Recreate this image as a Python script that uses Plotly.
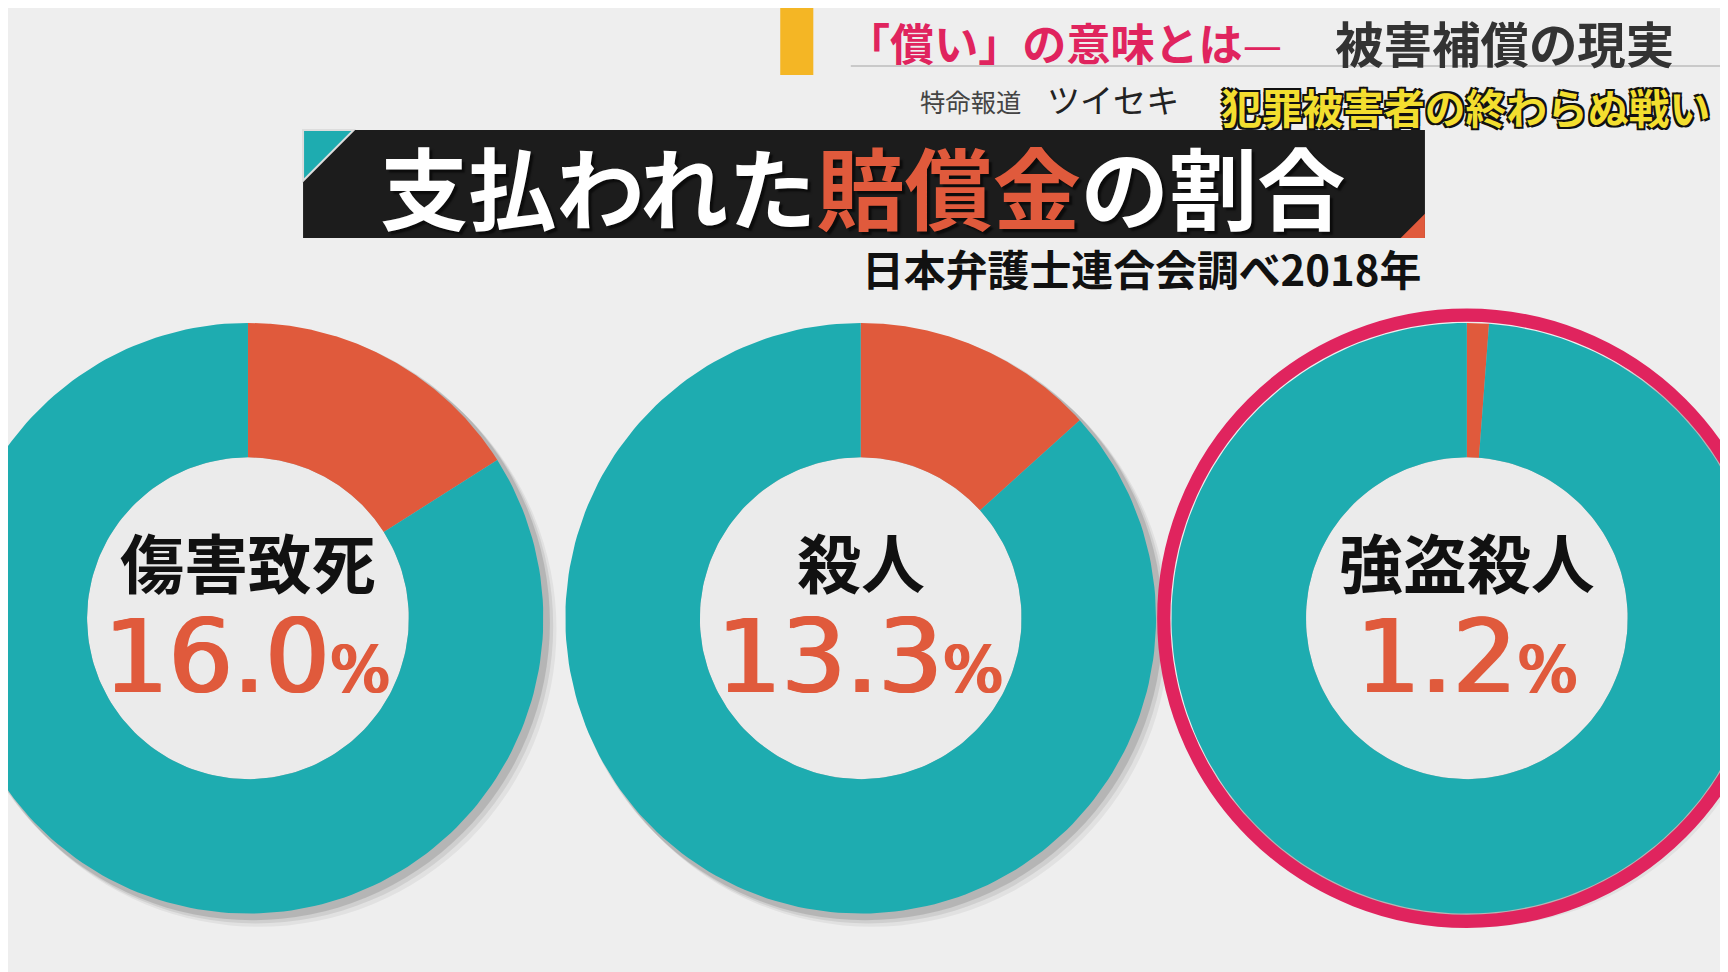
import numpy as np
import plotly.graph_objects as go

# 支払われた賠償金の割合（日本弁護士連合会調べ2018年）
categories = ["傷害致死", "殺人", "強盗殺人"]
paid_pct = [16.0, 13.3, 1.2]
pct_labels = ["16.0", "13.3", "1.2"]
highlight = "強盗殺人"

# 元画像 1568x882 の座標で配置し、1728x972 に拡大
W, H = 1568, 882
S = 1728 / 1568
OFF = 8 / S  # body の余白 8px を打ち消す
centers_x = [225, 781, 1331]
center_y = 561
R_OUT, R_IN = 268, 146

TEAL = "#1eacb0"
ORANGE = "#e05a3c"
BG = "#eeeeee"
PINK = "#e0245e"
JP = "Noto Sans CJK JP"


def ring(cx, cy, a0, a1):
    # 12時から時計回りの角度（度）でリング状の扇形
    t = np.radians(np.linspace(a0, a1, 200))
    xo = cx + R_OUT * np.sin(t)
    yo = cy - R_OUT * np.cos(t)
    xi = cx + R_IN * np.sin(t[::-1])
    yi = cy - R_IN * np.cos(t[::-1])
    return np.r_[xo, xi, xo[:1]], np.r_[yo, yi, yo[:1]]


fig = go.Figure()
shapes = []
annotations = []

for cat, p, lab, cx in zip(categories, paid_pct, pct_labels, centers_x):
    # 影
    for off, a in [(10, 0.05), (7, 0.08), (4, 0.12)]:
        shapes.append(dict(type="circle", xref="x", yref="y", layer="below",
                           x0=cx - R_OUT + off - 2, x1=cx + R_OUT + off + 2,
                           y0=center_y - R_OUT + off - 2, y1=center_y + R_OUT + off + 2,
                           fillcolor=f"rgba(0,0,0,{a})", line_width=0))
    paid_deg = p / 100 * 360
    x, y = ring(cx, center_y, 0, paid_deg)
    fig.add_trace(go.Scatter(x=x, y=y, fill="toself", fillcolor=ORANGE, mode="lines",
                             line=dict(width=0), hoverinfo="skip", showlegend=False))
    x, y = ring(cx, center_y, paid_deg, 360)
    fig.add_trace(go.Scatter(x=x, y=y, fill="toself", fillcolor=TEAL, mode="lines",
                             line=dict(width=0), hoverinfo="skip", showlegend=False))
    # 穴
    shapes.append(dict(type="circle", xref="x", yref="y", layer="below",
                       x0=cx - R_IN, x1=cx + R_IN, y0=center_y - R_IN, y1=center_y + R_IN,
                       fillcolor="#ebebeb", line_width=0))
    annotations.append(dict(x=cx, y=508, xref="x", yref="y", text=f"<b>{cat}</b>",
                            showarrow=False, font=dict(family=JP, size=58 * S, color="#111")))
    annotations.append(dict(x=cx, y=596, xref="x", yref="y",
                            text=f"{lab}<span style='font-size:{58 * S:.0f}px'>%</span>",
                            showarrow=False,
                            font=dict(family="DejaVu Sans", size=92 * S, color=ORANGE,
                                      shadow=f"1.5px 0 0 {ORANGE}, -1.5px 0 0 {ORANGE}")))
    if cat == highlight:
        shapes.append(dict(type="circle", xref="x", yref="y", layer="above",
                           x0=cx - 275, x1=cx + 275, y0=center_y - 275, y1=center_y + 275,
                           line=dict(color=PINK, width=12 * S)))

# タイトル帯
shapes += [
    dict(type="rect", xref="x", yref="y", x0=275, x1=1293, y0=118, y1=216,
         fillcolor="#1c1c1c", line_width=0),
    dict(type="path", xref="x", yref="y", path="M 275 118 L 321 118 L 275 164 Z",
         fillcolor=TEAL, line_width=0),
    dict(type="path", xref="x", yref="y", path="M 275 118 L 321 118 L 275 164 Z",
         fillcolor="rgba(0,0,0,0)", line=dict(color="#dddddd", width=2)),
    dict(type="path", xref="x", yref="y", path="M 1293 194 L 1293 216 L 1271 216 Z",
         fillcolor=ORANGE, line_width=0),
    # 右上の見出し
    dict(type="rect", xref="x", yref="y", x0=708, x1=738, y0=-5, y1=68,
         fillcolor="#f4b625", line_width=0),
    dict(type="line", xref="x", yref="y", x0=772, x1=1568, y0=60, y1=60,
         line=dict(color="#c9c9c9", width=2)),
]

annotations += [
    dict(x=783, y=167, xref="x", yref="y", showarrow=False,
         text="<b>支払われた<span style='color:#e05a3c'>賠償金</span>の割合</b>",
         font=dict(family=JP, size=80 * S, color="white",
                   shadow="3px 3px 2px rgba(0,0,0,0.6)")),
    dict(x=1291, y=243, xref="x", yref="y", xanchor="right", showarrow=False,
         text="<b>日本弁護士連合会調べ2018年</b>",
         font=dict(family=JP, size=38 * S, color="#111")),
    dict(x=766, y=38, xref="x", yref="y", xanchor="left", showarrow=False,
         text="<b>「償い」の意味とは</b>—",
         font=dict(family=JP, size=40 * S, color=PINK)),
    dict(x=1210, y=38, xref="x", yref="y", xanchor="left", showarrow=False,
         text="<b>被害補償の現実</b>",
         font=dict(family=JP, size=44 * S, color="#333")),
    dict(x=833, y=92, xref="x", yref="y", xanchor="left", showarrow=False,
         text="特命報道", font=dict(family=JP, size=23 * S, color="#444")),
    dict(x=948, y=90, xref="x", yref="y", xanchor="left", showarrow=False,
         text="ツイセキ", font=dict(family=JP, size=30 * S, color="#222")),
    dict(x=1106, y=97, xref="x", yref="y", xanchor="left", showarrow=False,
         text="<b>犯罪被害者の終わらぬ戦い</b>",
         font=dict(family=JP, size=37 * S, color="#f3de2f",
                   shadow="-2px -2px 0 #111, 2px -2px 0 #111, -2px 2px 0 #111, 2px 2px 0 #111")),
]

fig.update_layout(
    width=1728, height=972,
    margin=dict(l=0, r=0, t=0, b=0),
    paper_bgcolor=BG, plot_bgcolor=BG,
    xaxis=dict(range=[OFF, OFF + W], visible=False, fixedrange=True),
    yaxis=dict(range=[OFF + H, OFF], visible=False, fixedrange=True),
    shapes=shapes, annotations=annotations,
    showlegend=False,
)

fig.write_html("out.html")
